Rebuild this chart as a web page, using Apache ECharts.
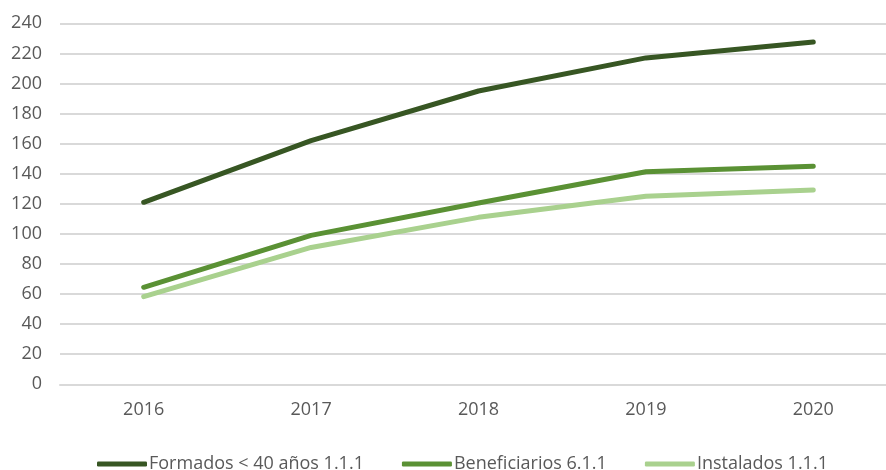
<!DOCTYPE html>
<html><head><meta charset="utf-8">
<script src="https://cdn.jsdelivr.net/npm/echarts@6/dist/echarts.min.js"></script>
<style>html,body{margin:0;padding:0;background:#fff}#c{width:886px;height:470px}</style>
</head><body><div id="c"></div>
<script>
const categories = ['2016','2017','2018','2019','2020'];
const formados = [121, 162, 195, 217, 227.5];
const beneficiarios = [64.5, 99, 120.5, 141.3, 145];
const instalados = [58.3, 91, 111, 125, 129.2];
const seriesNames = ['Formados < 40 años 1.1.1','Beneficiarios 6.1.1','Instalados 1.1.1'];
const colors = ['#375623','#5a9134','#a9d18e'];
const font = '"Open Sans",sans-serif';
const chart = echarts.init(document.getElementById('c'), null, {renderer:'canvas'});
const mk = (name, data, color) => ({
  name, type:'line', data, symbol:'none', smooth:false,
  lineStyle:{width:5, color, cap:'round', join:'round'}, itemStyle:{color}
});
chart.setOption({
  animation:false,
  grid:{left:60, top:23.3, width:837, height:361, containLabel:false, outerBoundsMode:'none'},
  xAxis:{type:'category', data:categories, boundaryGap:true,
    axisLine:{show:true, lineStyle:{color:'#d9d9d9', width:2}}, axisTick:{show:false},
    axisLabel:{color:'#595959', fontSize:18, fontFamily:font, margin:17}},
  yAxis:{type:'value', min:0, max:240, interval:20,
    axisLine:{show:false}, axisTick:{show:false},
    splitLine:{lineStyle:{color:'#d9d9d9', width:2}},
    axisLabel:{color:'#595959', fontSize:18, fontFamily:font, margin:18}},
  legend:{top:450, left:92, itemWidth:50, itemHeight:5, itemGap:38, icon:'roundRect',
    textStyle:{color:'#595959', fontSize:18, fontFamily:font, padding:[0,0,0,-3]},
    data:seriesNames},
  series:[mk(seriesNames[0], formados, colors[0]), mk(seriesNames[1], beneficiarios, colors[1]), mk(seriesNames[2], instalados, colors[2])]
});
</script></body></html>
